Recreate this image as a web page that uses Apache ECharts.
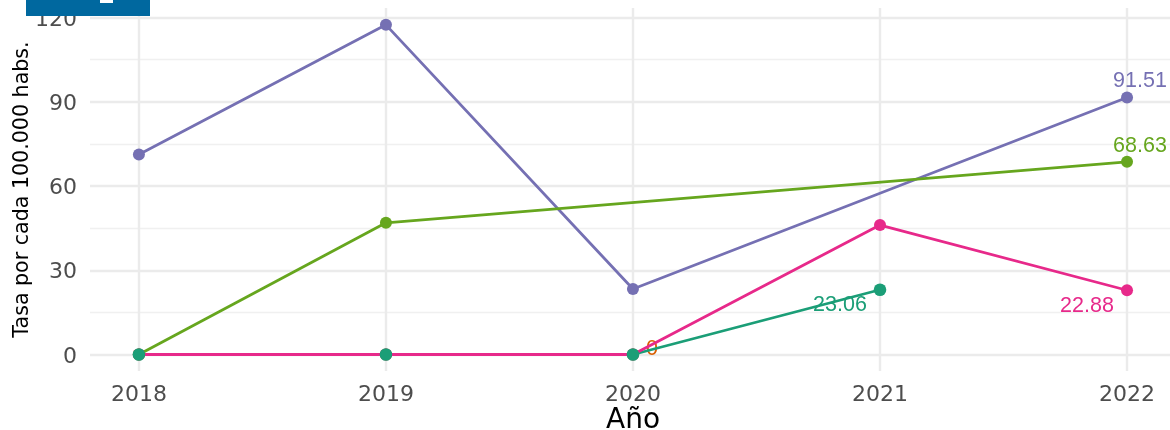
<!DOCTYPE html>
<html><head><meta charset="utf-8">
<style>html,body{margin:0;padding:0;background:#fff}#c{width:1170px;height:430px}</style>
<script src="https://cdn.jsdelivr.net/npm/echarts@6/dist/echarts.min.js"></script>
</head><body><div id="c"></div>
<script>
const years=[2018,2019,2020,2021,2022];
const yMajor=[0,30,60,90,120];
const yMinor=[15,45,75,105];
const purple=[71.2,117.4,23.3,null,91.51];
const green=[0,46.9,null,null,68.63];
const orange=[0,0,0,null,null];
const teal=[0,0,0,23.06,null];
const pink=[0,0,0,46.1,22.88];
const labelled={
 purple:{2022:[13,-16]},
 green:{2022:[13,-16]},
 orange:{2020:[19,-5]},
 teal:{2021:[-40,15]},
 pink:{2022:[-40,16]}
};
function pts(vals,lab,color){
 return years.map((y,i)=>{
  const o={value:[y,vals[i]]};
  if(lab&&lab[y]) o.label={show:true,position:'inside',offset:lab[y],color:color,fontFamily:'Liberation Sans',fontSize:21.5,
    formatter:p=>String(p.value[1])};
  return o;
 });
}
function line(name,vals,color,lab,sym,z){
 return {name,type:'line',data:pts(vals,lab,color),connectNulls:true,symbol:'circle',symbolSize:sym?12:0,showSymbol:!!sym,
  lineStyle:{color,width:2.8},itemStyle:{color},z,silent:true,animation:false};
}
const C={purple:'#7570B3',green:'#66A61E',orange:'#D95F02',teal:'#1B9E77',pink:'#E7298A'};
const series=[
 line('Orange',orange,C.orange,labelled.orange,true,2),
 line('Purple',purple,C.purple,labelled.purple,true,3),
 line('Green',green,C.green,labelled.green,true,4),
 line('Teal',teal,C.teal,null,false,5),
 line('Pink',pink,C.pink,labelled.pink,true,6),
 {name:'Teal points',type:'scatter',data:pts(teal,labelled.teal,C.teal),symbol:'circle',symbolSize:12.6,itemStyle:{color:C.teal,opacity:1},z:7,silent:true,animation:false},
];
const chart=echarts.init(document.getElementById('c'),null,{renderer:'canvas'});
const hide={axisLine:{show:false},axisTick:{show:false}};
chart.setOption({
 animation:false,
 grid:{left:90,right:0,top:8,bottom:59,outerBoundsMode:'none',containLabel:false},
 xAxis:{type:'value',min:2017.802,max:2022.174,
  ...hide,
  axisTick:{show:false,customValues:years},
  axisLabel:{customValues:years,formatter:v=>String(v),color:'#4d4d4d',fontFamily:'DejaVu Sans',fontSize:22,margin:13,showMinLabel:true,showMaxLabel:true,hideOverlap:false},
  splitLine:{show:true,lineStyle:{color:'#ebebeb',width:2.4}},
  name:'Año',nameLocation:'middle',nameGap:36,nameMoveOverlap:false,nameTextStyle:{color:'#000',fontFamily:'DejaVu Sans',fontSize:28,padding:[0,0,0,6]}},
 yAxis:[
  {type:'value',min:-5.88,max:123.4,...hide,
   axisTick:{show:false,customValues:yMajor},
   axisLabel:{show:false,customValues:yMajor},
   splitLine:{show:true,lineStyle:{color:'#ebebeb',width:2.4}},
   name:'Tasa por cada 100.000 habs.',nameLocation:'middle',nameGap:57,nameMoveOverlap:false,nameTextStyle:{color:'#000',fontFamily:'DejaVu Sans',fontSize:20.6}},
  {type:'value',min:-5.88,max:123.4,position:'left',...hide,
   axisTick:{show:false,customValues:yMinor},
   axisLabel:{show:false,customValues:yMinor},
   splitLine:{show:true,lineStyle:{color:'#f0f0f0',width:1.4}}},
  {type:'value',min:-4.99,max:124.29,position:'left',...hide,
   axisTick:{show:false,customValues:yMajor},
   axisLabel:{customValues:yMajor,color:'#4d4d4d',fontFamily:'DejaVu Sans',fontSize:22,margin:13},
   splitLine:{show:false}}
 ],
 series,
 graphic:[
  {type:'rect',shape:{x:26,y:0,width:124,height:16},style:{fill:'#00689f'},z:100},
  {type:'rect',shape:{x:100,y:0,width:13,height:3},style:{fill:'#fff'},z:101}
 ]
});
</script></body></html>
